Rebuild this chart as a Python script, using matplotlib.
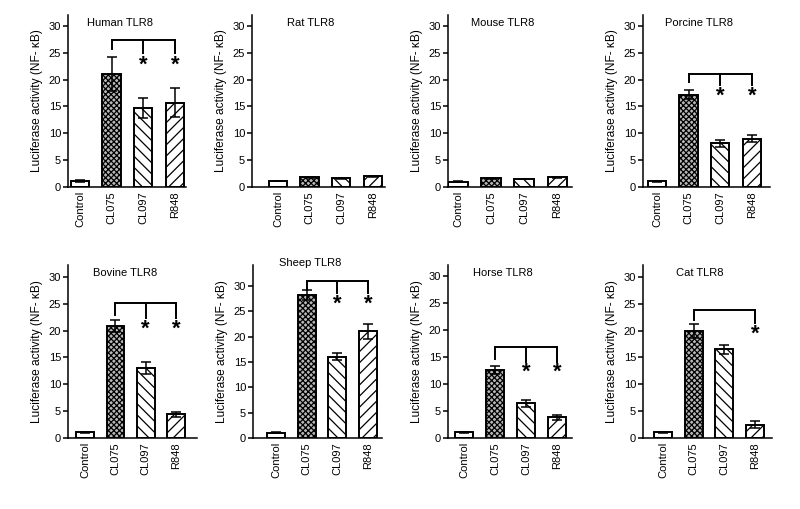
import matplotlib
matplotlib.use("Agg")
import matplotlib.pyplot as plt
import numpy as np

plt.rcParams['font.family'] = ['Liberation Sans', 'DejaVu Sans']
plt.rcParams['hatch.linewidth'] = 0.9

# data
treatments = ["Control", "CL075", "CL097", "R848"]
species = ["Human TLR8", "Rat TLR8", "Mouse TLR8", "Porcine TLR8",
           "Bovine TLR8", "Sheep TLR8", "Horse TLR8", "Cat TLR8"]

human = [1.1, 21.0, 14.7, 15.7]
human_err = [0.15, 3.2, 1.9, 2.7]
rat = [1.1, 1.8, 1.6, 2.0]
rat_err = [0.05, 0.05, 0.05, 0.05]
mouse = [1.0, 1.6, 1.5, 1.8]
mouse_err = [0.05, 0.05, 0.05, 0.05]
porcine = [1.1, 17.2, 8.1, 9.0]
porcine_err = [0.1, 0.8, 0.6, 0.6]
bovine = [1.1, 20.8, 13.0, 4.4]
bovine_err = [0.1, 1.1, 1.1, 0.4]
sheep = [1.0, 28.2, 16.0, 21.0]
sheep_err = [0.1, 1.0, 0.7, 1.4]
horse = [1.1, 12.6, 6.4, 3.8]
horse_err = [0.1, 0.8, 0.6, 0.4]
cat = [1.1, 19.9, 16.5, 2.5]
cat_err = [0.1, 1.3, 0.8, 0.6]

values = [human, rat, mouse, porcine, bovine, sheep, horse, cat]
errors = [human_err, rat_err, mouse_err, porcine_err,
          bovine_err, sheep_err, horse_err, cat_err]

# significance brackets: (top, drop, star y, targets) or None
brackets = [(27.3, 25.0, 22.6, [2, 3]), None, None, (21.0, 19.0, 16.9, [2, 3]),
            (25.1, 22.3, 20.3, [2, 3]), (31.0, 28.5, 26.3, [2, 3]),
            (16.8, 14.0, 12.1, [2, 3]), (23.8, 21.4, 19.4, [3])]

hatches = ["", "xxxxxx", "\\\\\\", "///"]
faces = ["white", "#b8b8b8", "white", "white"]

# layout in pixels: left, bottom, width, height ; xlim ; ylim top ; title y
W, H = 800, 509
pos = [(68, 322, 118, 172), (252, 322, 133, 172), (448, 322, 124, 172), (643, 322, 127, 172),
       (68, 71, 129, 173), (253, 71, 129, 173), (448, 71, 124, 173), (643, 71, 129, 173)]
xlims = [(-0.38, 3.35), (-0.82, 3.38), (-0.30, 3.45), (-0.44, 3.57),
         (-0.56, 3.69), (-0.75, 3.46), (-0.52, 3.48), (-0.65, 3.55)]
ytops = [32, 32, 32, 32, 32.2, 34.1, 32, 32.2]
title_y = [0.955, 0.955, 0.955, 0.955, 0.955, 1.01, 0.955, 0.955]

fig = plt.figure(figsize=(W / 100, H / 100), dpi=100, facecolor="white")

x = np.arange(len(treatments))
for i in range(8):
    l, b, w, h = pos[i]
    ax = fig.add_axes([l / W, b / H, w / W, h / H])
    ax.bar(x, values[i], width=0.58, color=faces, edgecolor="black",
           linewidth=1.4, hatch=hatches, zorder=2)
    ax.errorbar(x, values[i], yerr=errors[i], fmt="none", ecolor="black",
                elinewidth=1.1, capsize=3.5, capthick=1.1, zorder=3)

    if brackets[i] is not None:
        top, drop, sy, targets = brackets[i]
        ax.plot([1, 1, targets[-1], targets[-1]], [drop + 0.6, top, top, drop],
                color="black", lw=1.4, solid_joinstyle="miter")
        for t in targets:
            ax.plot([t, t], [top, drop], color="black", lw=1.4)
            ax.text(t, sy, "*", ha="center", va="center", fontsize=16,
                    fontweight="bold")

    ax.set_xlim(*xlims[i])
    ax.set_ylim(0, ytops[i])
    ax.set_yticks([0, 5, 10, 15, 20, 25, 30])
    ax.set_xticks(x)
    ax.set_xticklabels(treatments, rotation=90, fontsize=8)
    ax.tick_params(axis="y", labelsize=8, length=3.5, width=1.1, pad=1.5)
    ax.tick_params(axis="x", length=0, pad=3)
    for s in ["top", "right"]:
        ax.spines[s].set_visible(False)
    for s in ["left", "bottom"]:
        ax.spines[s].set_linewidth(1.1)
    ax.set_ylabel("Luciferase activity (NF- κB)", fontsize=8.6, labelpad=4)
    ax.text(0.44, title_y[i], species[i], transform=ax.transAxes,
            ha="center", va="center", fontsize=8)

plt.savefig("out.png", dpi=100, facecolor=fig.get_facecolor())
